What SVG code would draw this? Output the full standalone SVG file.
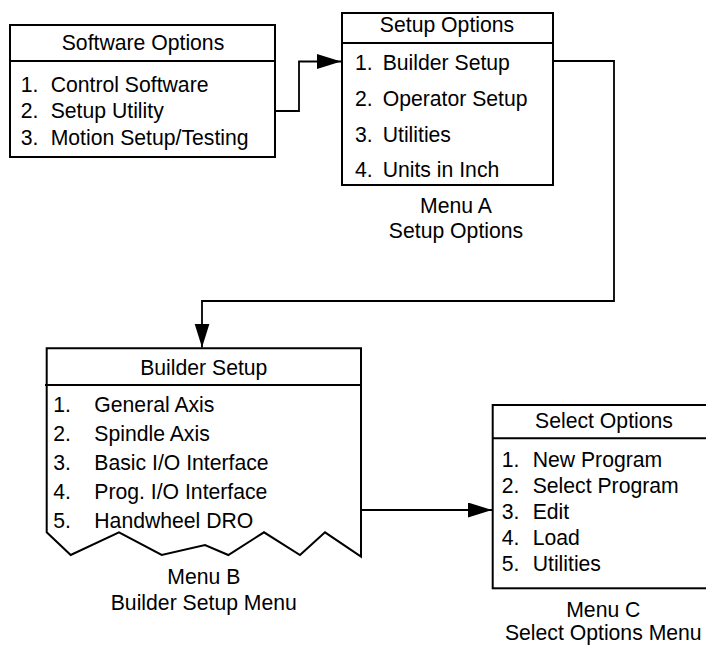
<svg xmlns="http://www.w3.org/2000/svg" width="706" height="645" viewBox="0 0 706 645">
<style>
.box{fill:#fff;stroke:#000;stroke-width:2}
.div{stroke:#000;stroke-width:2}
.t{font-family:"Liberation Sans",Arial,sans-serif;font-size:21.2px;fill:#000}
.c{text-anchor:middle}
.con{fill:none;stroke:#000;stroke-width:1.8}
</style>
<defs>
<marker id="arr" markerUnits="userSpaceOnUse" markerWidth="26" markerHeight="16" refX="24" refY="7.5" orient="auto">
<path d="M0,0 L24,7.5 L0,15 Z" fill="#000"/>
</marker>
</defs>
<rect width="706" height="645" fill="#fff"/>
<g id="connectors">
<path class="con" d="M275,111 H299 V61.5 H341" marker-end="url(#arr)"/>
<path class="con" d="M553,61 H614 V301 H202 V347.5" marker-end="url(#arr)"/>
<path class="con" d="M361,510 H492" marker-end="url(#arr)"/>
</g>
<g id="software-options">
<rect class="box" x="10" y="25" width="265" height="132"/>
<line class="div" x1="10" y1="61" x2="275" y2="61"/>
<text class="t c" x="143" y="50">Software Options</text>
<text class="t" y="92"><tspan x="20.7">1.</tspan><tspan x="50.7">Control Software</tspan></text>
<text class="t" y="118.3"><tspan x="20.7">2.</tspan><tspan x="50.7">Setup Utility</tspan></text>
<text class="t" y="145"><tspan x="20.7">3.</tspan><tspan x="50.7">Motion Setup/Testing</tspan></text>
</g>
<g id="menu-a">
<rect class="box" x="342" y="13" width="211" height="172"/>
<line class="div" x1="342" y1="43" x2="553" y2="43"/>
<text class="t c" x="447" y="32.3">Setup Options</text>
<text class="t" y="70"><tspan x="355">1.</tspan><tspan x="382.7">Builder Setup</tspan></text>
<text class="t" y="106"><tspan x="355">2.</tspan><tspan x="382.7">Operator Setup</tspan></text>
<text class="t" y="141.7"><tspan x="355">3.</tspan><tspan x="382.7">Utilities</tspan></text>
<text class="t" y="177.3"><tspan x="355">4.</tspan><tspan x="382.7">Units in Inch</tspan></text>
<text class="t c" x="456" y="213.3">Menu A</text>
<text class="t c" x="456" y="238.3">Setup Options</text>
</g>
<g id="menu-b">
<path class="box" d="M46.7,348.3 H361 V556.7 L325,532.3 L300,555 L264,532.3 L228.3,555 L205,545 L161.7,555 L119,532.3 L70.7,555 L46.7,532.3 Z"/>
<line class="div" x1="45" y1="385" x2="361" y2="385"/>
<text class="t c" x="203.8" y="375">Builder Setup</text>
<text class="t" y="411.7"><tspan x="53.3">1.</tspan><tspan x="94.3">General Axis</tspan></text>
<text class="t" y="441.2"><tspan x="53.3">2.</tspan><tspan x="94.3">Spindle Axis</tspan></text>
<text class="t" y="470"><tspan x="53.3">3.</tspan><tspan x="94.3">Basic I/O Interface</tspan></text>
<text class="t" y="499.3"><tspan x="53.3">4.</tspan><tspan x="94.3">Prog. I/O Interface</tspan></text>
<text class="t" y="528.3"><tspan x="53.3">5.</tspan><tspan x="94.3">Handwheel DRO</tspan></text>
<text class="t c" x="203.8" y="584.3">Menu B</text>
<text class="t c" x="203.8" y="610">Builder Setup Menu</text>
</g>
<g id="menu-c">
<rect class="box" x="492.7" y="405" width="223" height="183.3"/>
<line class="div" x1="492.7" y1="438.3" x2="716" y2="438.3"/>
<text class="t c" x="604" y="427.7">Select Options</text>
<text class="t" y="466.7"><tspan x="501.7">1.</tspan><tspan x="532.7">New Program</tspan></text>
<text class="t" y="493"><tspan x="501.7">2.</tspan><tspan x="532.7">Select Program</tspan></text>
<text class="t" y="519"><tspan x="501.7">3.</tspan><tspan x="532.7">Edit</tspan></text>
<text class="t" y="545"><tspan x="501.7">4.</tspan><tspan x="532.7">Load</tspan></text>
<text class="t" y="570.7"><tspan x="501.7">5.</tspan><tspan x="532.7">Utilities</tspan></text>
<text class="t c" x="603.3" y="616.7">Menu C</text>
<text class="t c" x="603.3" y="640">Select Options Menu</text>
</g>
</svg>
